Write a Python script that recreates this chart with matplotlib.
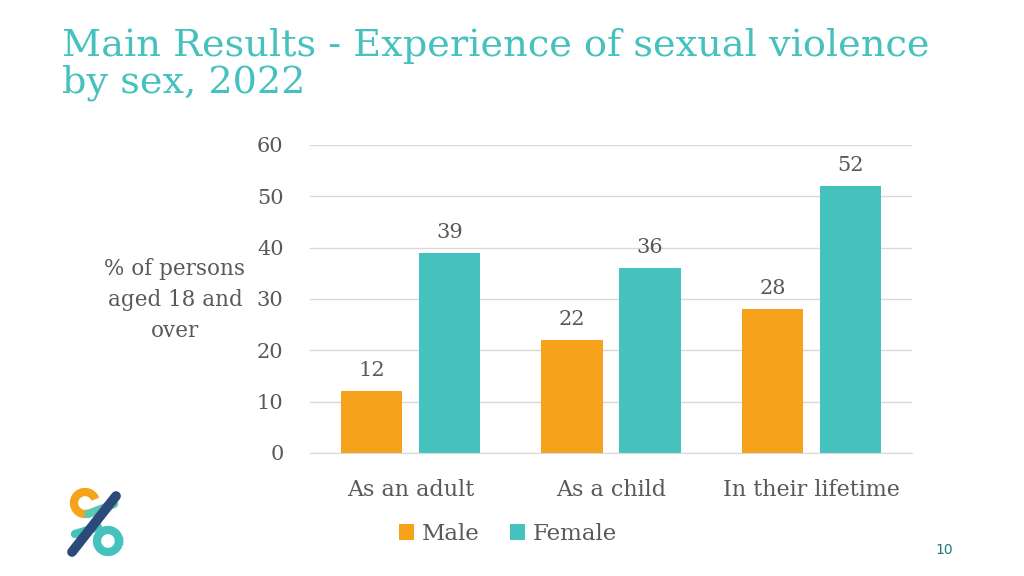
import matplotlib
matplotlib.use("Agg")
import matplotlib.pyplot as plt
import numpy as np

categories = ["As an adult", "As a child", "In their lifetime"]
male = [12, 22, 28]
female = [39, 36, 52]
yticks = [0, 10, 20, 30, 40, 50, 60]

ORANGE = "#F7A21B"
TEAL = "#45C1BE"
GREY = "#595959"
SLAB = ["DejaVu Serif", "DejaVu Sans"]

fig = plt.figure(figsize=(10.24, 5.76), dpi=100)
ax = fig.add_axes([310/1024, 1-453/576, 602/1024, 308/576])

x = np.arange(len(categories))
w = 0.305
off = 0.194
b1 = ax.bar(x - off, male, w, color=ORANGE, label="Male")
b2 = ax.bar(x + off, female, w, color=TEAL, label="Female")
for bars, vals in ((b1, male), (b2, female)):
    for r, v in zip(bars, vals):
        ax.annotate(str(v), (r.get_x() + r.get_width()/2, v), xytext=(0, 8),
                    textcoords="offset points", ha="center", va="bottom",
                    fontsize=15, color=GREY, family=SLAB)

ax.set_xlim(-0.5, 2.5)
ax.set_ylim(0, 60)
ax.set_yticks(yticks)
ax.set_yticklabels([str(t) for t in yticks], family=SLAB, fontsize=15, color=GREY)
ax.set_xticks(x)
ax.set_xticklabels(categories, family=SLAB, fontsize=16, color=GREY)
ax.tick_params(axis="y", length=0, pad=19)
ax.tick_params(axis="x", length=0, pad=19)
ax.grid(axis="y", color="#D9D9D9", linewidth=1)
ax.set_axisbelow(True)
for s in ("top", "right", "left"):
    ax.spines[s].set_visible(False)
ax.spines["bottom"].set_color("#D9D9D9")

fig.text(175/1024, 1-300/576, "% of persons\naged 18 and\nover", ha="center", va="center",
         family=SLAB, fontsize=15.5, color=GREY, linespacing=1.55)

leg = fig.legend(handles=[b1, b2], labels=["Male", "Female"], loc="center",
                 bbox_to_anchor=(508/1024, 1-534/576), ncol=2, frameon=False,
                 prop={"family": SLAB, "size": 16.5}, handlelength=0.65, handleheight=0.65,
                 handletextpad=0.35, columnspacing=1.3)
for t in leg.get_texts():
    t.set_color(GREY)

fig.text(62/1024, 1-28/576, "Main Results - Experience of sexual violence\nby sex, 2022",
         ha="left", va="top", family=SLAB, fontsize=27.5, color=TEAL, linespacing=1.02)

fig.text(944/1024, 1-550/576, "10", ha="center", va="center", fontsize=10, color="#1B7A7A")

# simple logo
la = fig.add_axes([62/1024, 1-560/576, 66/1024, 72/576])
la.set_xlim(0, 66); la.set_ylim(0, 72); la.axis("off")
t = np.linspace(0, 2*np.pi, 100)
a = np.radians(np.linspace(20, 290, 80))
la.plot(23 + 11*np.cos(a), 57 + 11*np.sin(a), color=ORANGE, lw=6, solid_capstyle="butt")
la.plot(46 + 11*np.cos(t), 19 + 11*np.sin(t), color=TEAL, lw=6)
la.plot([26, 52], [46, 56], color="#5BC8B2", lw=6, solid_capstyle="round")
la.plot([13, 36], [26, 33], color=TEAL, lw=6, solid_capstyle="round")
la.plot([54, 10], [64, 8], color="#2B4A7A", lw=7, solid_capstyle="round")

fig.savefig("out.png", dpi=100)
